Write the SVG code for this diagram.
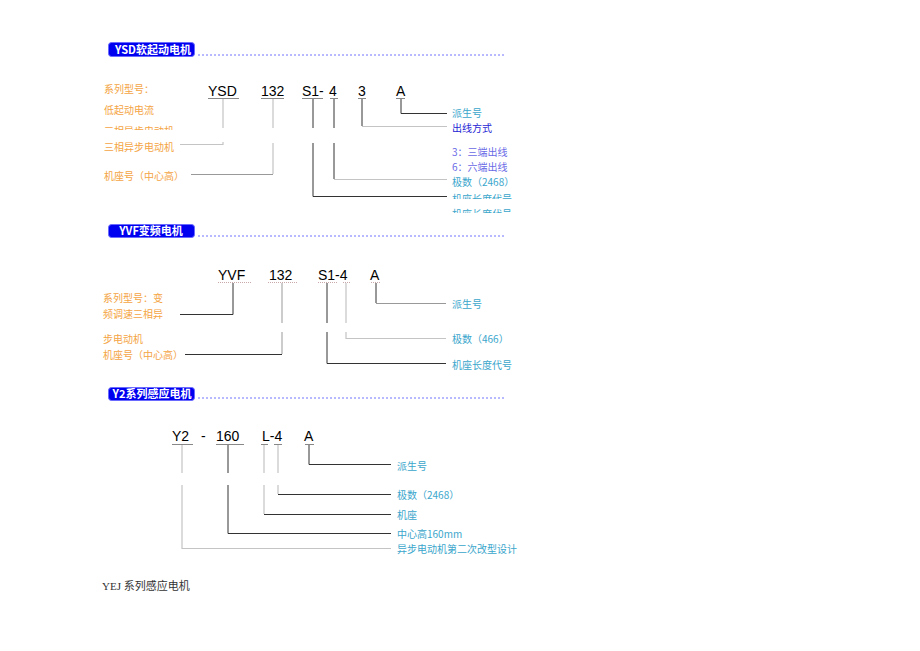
<svg xmlns="http://www.w3.org/2000/svg" width="920" height="651" viewBox="0 0 920 651">
<defs>
<style>
.hdr{fill:#0000f0;stroke:#6a6aff;stroke-width:1}
.hdrt{fill:#fff;font-family:"Noto Sans CJK SC","Liberation Sans",sans-serif;font-size:11px;font-weight:bold;text-anchor:middle}
.dot{stroke:#7272ff;stroke-width:1;stroke-dasharray:2 2;fill:none}
.code{font-family:"Liberation Sans",Arial,sans-serif;font-size:14px;fill:#000}
.cn{font-family:"Noto Sans CJK SC",sans-serif;font-size:10px;dominant-baseline:central}
.or{fill:#f4a444}
.cy{fill:#3aa6cc}
.bl{fill:#2424d4}
.pu{fill:#6a6ae6}
.dk{stroke:#333;stroke-width:1;fill:none}
.gr{stroke:#999;stroke-width:1;fill:none}
.lg{stroke:#c4c4c4;stroke-width:1.2;fill:none}
.ul{stroke:#888;stroke-width:1;fill:none}
.ulp{stroke:#c8a8a8;stroke-width:1;stroke-dasharray:1 1;fill:none}
</style>
<clipPath id="c1"><rect x="100" y="124" width="120" height="6"/></clipPath>
<clipPath id="c2"><rect x="100" y="142" width="120" height="12"/></clipPath>
<clipPath id="c3"><rect x="448" y="190" width="80" height="9"/></clipPath>
<clipPath id="c4"><rect x="448" y="206" width="80" height="7"/></clipPath>
</defs>

<g id="header1">
<rect class="hdr" x="108.5" y="42.5" width="86" height="14" rx="3"/>
<text class="hdrt" x="153" y="53.5">YSD软起动电机</text>
<line class="dot" x1="198" y1="55" x2="504" y2="55"/>
</g>
<g id="header2">
<rect class="hdr" x="108.5" y="224.5" width="86" height="13" rx="3"/>
<text class="hdrt" x="151" y="235">YVF变频电机</text>
<line class="dot" x1="198" y1="236" x2="504" y2="236"/>
</g>
<g id="header3">
<rect class="hdr" x="108.5" y="387.5" width="86" height="13" rx="3"/>
<text class="hdrt" x="152" y="398">Y2系列感应电机</text>
<line class="dot" x1="198" y1="398" x2="504" y2="398"/>
</g>

<g id="codes1">
<text class="code" x="208" y="96">YSD</text>
<text class="code" x="261" y="96">132</text>
<text class="code" x="302" y="96">S1-</text>
<text class="code" x="329" y="96">4</text>
<text class="code" x="358" y="96">3</text>
<text class="code" x="396" y="96">A</text>
</g>
<g id="labels1">
<text class="cn or" x="104" y="88">系列型号：</text>
<text class="cn or" x="104" y="109">低起动电流</text>
<text class="cn or" x="104" y="130" clip-path="url(#c1)">三相异步电动机</text>
<text class="cn or" x="104" y="146" clip-path="url(#c2)">三相异步电动机</text>
<text class="cn or" x="104" y="175">机座号（中心高）</text>
<text class="cn cy" x="452" y="112">派生号</text>
<text class="cn bl" x="452" y="127">出线方式</text>
<text class="cn pu" x="452" y="151">3：三端出线</text>
<text class="cn pu" x="452" y="166">6：六端出线</text>
<text class="cn cy" x="452" y="181">极数（2468）</text>
<text class="cn cy" x="452" y="198" clip-path="url(#c3)">机座长度代号</text>
<text class="cn cy" x="452" y="213" clip-path="url(#c4)">机座长度代号</text>
</g>

<g id="codes2">
<text class="code" x="218" y="280">YVF</text>
<text class="code" x="269" y="280">132</text>
<text class="code" x="318" y="280">S1-4</text>
<text class="code" x="370" y="280">A</text>
</g>
<g id="labels2">
<text class="cn or" x="103" y="297">系列型号：变</text>
<text class="cn or" x="103" y="313">频调速三相异</text>
<text class="cn or" x="103" y="338">步电动机</text>
<text class="cn or" x="103" y="354">机座号（中心高）</text>
<text class="cn cy" x="452" y="303">派生号</text>
<text class="cn cy" x="452" y="338">极数（466）</text>
<text class="cn cy" x="452" y="364">机座长度代号</text>
</g>

<g id="codes3">
<text class="code" x="172" y="441">Y2</text>
<text class="code" x="201" y="441">-</text>
<text class="code" x="216" y="441">160</text>
<text class="code" x="262" y="441">L-4</text>
<text class="code" x="304" y="441">A</text>
</g>
<g id="labels3">
<text class="cn cy" x="397" y="465">派生号</text>
<text class="cn cy" x="397" y="494">极数（2468）</text>
<text class="cn cy" x="397" y="514">机座</text>
<text class="cn cy" x="397" y="533">中心高160mm</text>
<text class="cn cy" x="397" y="548">异步电动机第二次改型设计</text>
</g>

<g id="connectors">
<path class="ul" d="M208 98.5H239M261 98.5H284M302 98.5H323M330 98.5H338M358 98.5H366M396 98.5H405"/>
<path class="lg" d="M223 99V128M223 142V144.5H180"/>
<path class="lg" d="M273 99V128M273 143V174"/>
<path class="gr" d="M273 174.5H191"/>
<path class="dk" d="M313 99V128M313 143V196.5H447"/>
<path class="dk" d="M334 99V128M334 143V179"/>
<path class="lg" d="M334 179.5H447"/>
<path class="dk" d="M362 99V126"/>
<path class="lg" d="M362 126.5H447"/>
<path class="dk" d="M401 99V113.5H447"/>

<path class="ulp" d="M218 282.5H251M268 282.5H297M318 282.5H337M343 282.5H350M371 282.5H381"/>
<path class="dk" d="M233 283V314.5H180"/>
<path class="gr" d="M282 283V323M282 332V354"/>
<path class="dk" d="M282 354.5H185"/>
<path class="dk" d="M327 283V323M327 332V363.5H446"/>
<path class="lg" d="M346 283V323M346 332V338.5H446"/>
<path class="dk" d="M376 283V303"/>
<path class="gr" d="M376 303.5H446"/>

<path class="ul" d="M172 444.5H193M216 444.5H244M261 444.5H268M274 444.5H282M305 444.5H314"/>
<path class="lg" d="M182 445V473M182 485V548.5H391"/>
<path class="dk" d="M228 445V473M228 485V533.5H391"/>
<path class="lg" d="M264 445V473M264 485V514"/>
<path class="dk" d="M264 514.5H391"/>
<path class="lg" d="M278 445V473M278 485V494"/>
<path class="dk" d="M278 494.5H391"/>
<path class="dk" d="M309 445V464.5H391"/>
</g>

<text x="102" y="590" font-family="'Liberation Serif','Noto Sans CJK SC',serif" font-size="11" fill="#333">YEJ 系列感应电机</text>
</svg>
